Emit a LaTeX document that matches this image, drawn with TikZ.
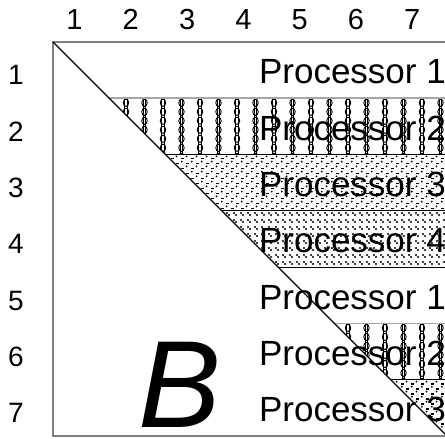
\documentclass[tikz,border=0pt]{standalone}
\usepackage{fontspec}
\setmainfont{Liberation Sans}

\tikzset{
  boxline/.style={draw=black!50, line width=1.6pt},
  diagline/.style={draw=black, line width=1.1pt},
  grayrule/.style={draw=black!35, line width=1.8pt},
  blackrule/.style={draw=black, line width=0.9pt},
  texture/.style={draw=black, line width=0.9pt},
  proc/.style={anchor=base east, inner sep=0pt, font=\fontsize{35}{35}\selectfont},
  idx/.style={anchor=base, inner sep=0pt, font=\fontsize{29}{29}\selectfont},
  rowidx/.style={anchor=base, inner sep=0pt, font=\fontsize{28}{28}\selectfont},
  bigB/.style={anchor=base west, inner sep=0pt, font=\fontsize{124}{124}\selectfont\itshape},
}

\begin{document}
\begin{tikzpicture}[x=1pt,y=1pt]
\useasboundingbox (0,0) rectangle (445,439);
\clip (0,0) rectangle (445,439);
\fill[white] (0,0) rectangle (445,439);

% ---- bead bands (rows 2 and 6)
\foreach \i in {2,6}{
  \pgfmathsetmacro\yt{397-56.286*(\i-1)}
  \pgfmathsetmacro\yb{397-56.286*\i}
  \begin{scope}
    \clip (450-\yt,\yt) -- (450,\yt) -- (450,\yb) -- (450-\yb,\yb) -- cycle;
    \foreach \k in {-6,...,15}{
      \pgfmathsetmacro\cx{163+18.5*\k}
      \draw[texture] (\cx-1.4,\yb) -- (\cx-1.4,\yt) (\cx+1.4,\yb) -- (\cx+1.4,\yt);
      \foreach \m in {0,...,6}{
        \draw[texture] (\cx,\yt-4.5-9*\m) ellipse (2.7 and 3.6);
      }
    }
  \end{scope}
}

% ---- dash-dot bands (rows 3 and 7)
\foreach \i in {3,7}{
  \pgfmathsetmacro\yt{397-56.286*(\i-1)}
  \pgfmathsetmacro\yb{397-56.286*\i}
  \begin{scope}
    \clip (450-\yt,\yt) -- (450,\yt) -- (450,\yb) -- (450-\yb,\yb) -- cycle;
    \foreach \k in {0,...,40}{
      \foreach \m in {0,...,5}{
        \pgfmathsetmacro\px{50+10*\k}
        \pgfmathsetmacro\py{\yb+10*\m}
        \draw[texture, line width=1.1pt] (\px+1,\py+2) -- (\px+4,\py+2) (\px+6,\py+7) -- (\px+9,\py+7);
        \fill (\px+6.5,\py+4.4) circle (1) (\px+1.8,\py+9.2) circle (1);
      }
    }
  \end{scope}
}

% ---- diagonal-dot band (row 4)
\foreach \i in {4}{
  \pgfmathsetmacro\yt{397-56.286*(\i-1)}
  \pgfmathsetmacro\yb{397-56.286*\i}
  \begin{scope}
    \clip (450-\yt,\yt) -- (450,\yt) -- (450,\yb) -- (450-\yb,\yb) -- cycle;
    \foreach \k in {0,...,58}{
      \foreach \m in {0,...,8}{
        \pgfmathsetmacro\px{50+7*\k}
        \pgfmathsetmacro\py{\yb+7*\m}
        \fill (\px+2,\py+5.2) circle (1.1) (\px+4,\py+3.2) circle (1.1);
      }
    }
  \end{scope}
}

% ---- band rules
\foreach \i in {2,6}{
  \pgfmathsetmacro\yt{397-56.286*(\i-1)}
  \draw[grayrule] (450-\yt,\yt) -- (450,\yt);
}
\foreach \i in {2,3,4,6}{
  \pgfmathsetmacro\yb{397-56.286*\i}
  \draw[blackrule] (450-\yb,\yb) -- (450,\yb);
}

% ---- frame and diagonal
\draw[boxline] (53,397) rectangle (447,3);
\draw[diagline] (53,397) -- (447,3);

% ---- column indices
\node[idx] (c1) at (74.5,409) {1};
\node[idx] (c2) at (130.8,409) {2};
\node[idx] (c3) at (187.1,409) {3};
\node[idx] (c4) at (243.4,409) {4};
\node[idx] (c5) at (299.7,409) {5};
\node[idx] (c6) at (356,409) {6};
\node[idx] (c7) at (412.3,409) {7};
% ---- row indices
\node[rowidx] (r1) at (16,354) {1};
\node[rowidx] (r2) at (16,297.7) {2};
\node[rowidx] (r3) at (16,241.4) {3};
\node[rowidx] (r4) at (16,185.1) {4};
\node[rowidx] (r5) at (16,128.8) {5};
\node[rowidx] (r6) at (16,72.5) {6};
\node[rowidx] (r7) at (16,16.2) {7};
% ---- processor labels
\node[proc] (p1) at (446,355) {Processor 1};
\node[proc] (p2) at (446,298.7) {Processor 2};
\node[proc] (p3) at (446,242.4) {Processor 3};
\node[proc] (p4) at (446,186.1) {Processor 4};
\node[proc] (p5) at (446,129.8) {Processor 1};
\node[proc] (p6) at (446,73.5) {Processor 2};
\node[proc] (p7) at (446,17.2) {Processor 3};

\node[bigB] (B) at (138,11) {B};
\end{tikzpicture}
\end{document}
